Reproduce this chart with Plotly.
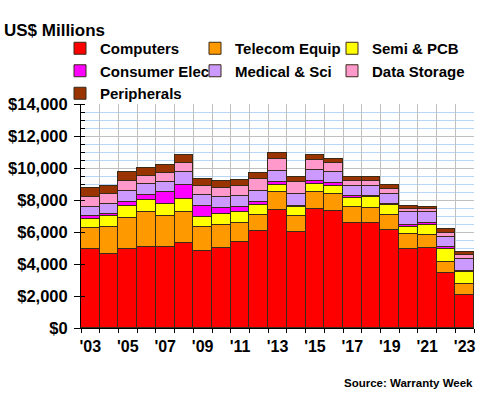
import plotly.graph_objects as go

years = list(range(2003, 2024))
tick_years = list(range(2003, 2024, 2))
tick_labels = ["'%02d" % (y % 100) for y in tick_years]
boundaries = [y - 0.5 for y in years] + [years[-1] + 0.5]

computers = [4920, 4600, 4920, 5080, 5040, 5290, 4790, 5000, 5350, 6040, 7375, 5980, 7440, 7310, 6540, 6540, 6100, 4920, 5000, 3420, 2060]
telecom   = [1330, 1710, 1980, 2150, 1940, 1940, 1500, 1440, 1210, 1000, 1105, 1020, 1060, 1065, 1000, 940, 980, 930, 790, 730, 670]
semi      = [560, 670, 750, 790, 770, 830, 630, 685, 710, 630, 480, 540, 500, 500, 610, 690, 610, 480, 650, 810, 750]
consumer  = [190, 120, 225, 290, 730, 880, 680, 355, 270, 230, 165, 110, 170, 165, 80, 80, 80, 90, 120, 100, 100]
medical   = [560, 670, 705, 670, 645, 810, 710, 690, 690, 680, 685, 700, 680, 730, 620, 650, 630, 810, 670, 630, 710]
storage   = [610, 580, 590, 520, 585, 580, 565, 600, 645, 750, 770, 775, 630, 520, 320, 290, 310, 230, 210, 270, 250]
periph    = [560, 550, 580, 480, 460, 500, 415, 400, 375, 340, 340, 335, 330, 250, 270, 230, 210, 165, 140, 210, 190]

series = [
    ("Computers", computers, "#FF0000", "legend"),
    ("Telecom Equip", telecom, "#FF9900", "legend2"),
    ("Semi & PCB", semi, "#FFFF00", "legend3"),
    ("Consumer Elec", consumer, "#FF00FF", "legend"),
    ("Medical & Sci", medical, "#CC99FF", "legend2"),
    ("Data Storage", storage, "#FF99CC", "legend3"),
    ("Peripherals", periph, "#993300", "legend"),
]

FONT = "Liberation Sans, Arial, sans-serif"

fig = go.Figure()
for name, vals, color, lg in series:
    fig.add_trace(go.Bar(
        x=years, y=vals, name=name, legend=lg,
        marker=dict(color=color, line=dict(color="#3a2a1a", width=1)),
    ))

leg_common = dict(
    xref="container", yref="container", xanchor="left", yanchor="top",
    orientation="v", traceorder="normal", bgcolor="rgba(0,0,0,0)",
    font=dict(family=FONT, size=15, color="black", weight="bold"),
    itemwidth=30, tracegroupgap=0,
)
y_leg = 1 - 32 / 400
xr = [2002.5, 2023.5]
yr = [0, 14000]
fig.update_layout(
    width=480, height=400,
    barmode="stack", bargap=0,
    plot_bgcolor="white", paper_bgcolor="white",
    margin=dict(l=81, r=6, t=104, b=72, autoexpand=False),
    font=dict(family=FONT, color="black"),
    legend=dict(x=60 / 480, y=y_leg, **leg_common),
    legend2=dict(x=195 / 480, y=y_leg, **leg_common),
    legend3=dict(x=332 / 480, y=y_leg, **leg_common),
    xaxis=dict(
        range=xr, tickmode="array", tickvals=tick_years, ticktext=tick_labels,
        ticks="", showgrid=False, showline=True, linecolor="black",
        tickfont=dict(family=FONT, size=16, weight="bold"), ticklabelstandoff=4,
        zeroline=False,
    ),
    xaxis2=dict(
        range=xr, overlaying="x", side="bottom", tickmode="array", tickvals=boundaries,
        ticks="outside", ticklen=4, tickcolor="black", showticklabels=False,
        showgrid=True, gridcolor="#c0c0c0", gridwidth=1, zeroline=False, showline=False,
    ),
    yaxis=dict(
        range=yr, dtick=2000, tickprefix="$", tickformat=",d",
        ticks="outside", ticklen=6, tickcolor="black", ticklabelstandoff=3,
        showline=True, linecolor="black", gridcolor="#c0c0c0",
        tickfont=dict(family=FONT, size=16.5, weight="bold"),
        minor=dict(dtick=500, ticks="inside", ticklen=4, tickcolor="black",
                   showgrid=True, gridcolor="#b8d6f6"),
        zeroline=False, layer="below traces",
    ),
    yaxis2=dict(
        range=yr, overlaying="y", side="left", dtick=2000, ticks="inside", ticklen=4,
        tickcolor="black", showticklabels=False, showgrid=False, zeroline=False, showline=False,
    ),
    annotations=[
        dict(text="US$ Millions", xref="paper", yref="paper", x=-79 / 393, y=1 + 74 / 224,
             xanchor="left", yanchor="middle", showarrow=False,
             font=dict(family=FONT, size=17, weight="bold", color="black")),
        dict(text="Source: Warranty Week", xref="paper", yref="paper", x=1.002, y=-55 / 224,
             xanchor="right", yanchor="middle", showarrow=False,
             font=dict(family=FONT, size=11.5, weight="bold", color="black")),
    ],
)
# invisible helpers so the overlay axes are drawn
fig.add_trace(go.Scatter(x=[xr[0]], y=[0], xaxis="x2", mode="markers",
                         marker=dict(opacity=0), showlegend=False, hoverinfo="skip"))
fig.add_trace(go.Scatter(x=[xr[0]], y=[0], yaxis="y2", mode="markers",
                         marker=dict(opacity=0), showlegend=False, hoverinfo="skip"))

fig.write_html("out.html", config={"displayModeBar": False},
               post_script="document.body.style.margin='0';")
